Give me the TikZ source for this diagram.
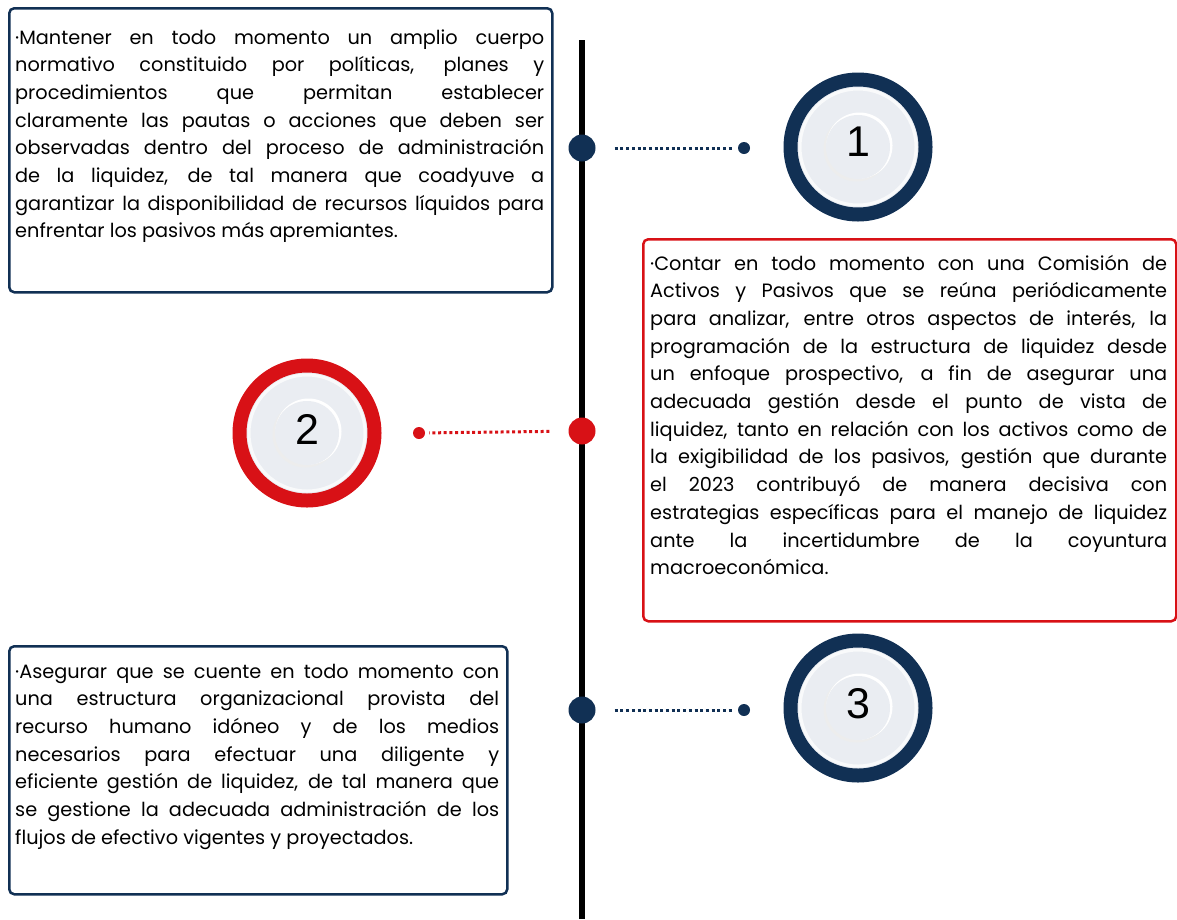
\documentclass[tikz,border=0pt]{standalone}
\usepackage{fontspec}
\usepackage{tikz}
\setmainfont{Poppins}
\newfontfamily\numfont{Liberation Sans}
\definecolor{navy}{RGB}{17,48,84}
\definecolor{redc}{RGB}{216,17,22}
\definecolor{disk}{RGB}{234,237,242}
\tolerance=10000

\begin{document}
\begin{tikzpicture}[x=1pt, y=-1pt,
    bigdot/.style={circle, inner sep=0pt, minimum size=27pt},
    tip/.style={circle, inner sep=0pt, minimum size=12pt},
    ring/.style={circle, inner sep=0pt, minimum size=135pt, line width=14pt, fill=disk},
    dots/.style={line width=3pt, dash pattern=on 3pt off 2.7pt, shorten <=19pt, shorten >=4pt},
    frame/.style={draw, rounded corners=5pt, line width=2.5pt, inner sep=0pt, anchor=north west},
    body/.style={anchor=base west, inner sep=0pt, align=justify, font=\fontsize{19.3}{27.7}\selectfont},
    num/.style={inner sep=0pt, font=\numfont\fontsize{43}{43}\selectfont}]
    \useasboundingbox (0,0) rectangle (1177,919);

    % timeline
    \coordinate (top) at (582,40);
    \coordinate (bottom) at (582,919);
    \draw[line width=6pt] (top) -- (bottom);

    % text boxes
    \node (b1) [frame, draw=navy, minimum width=543pt, minimum height=284pt] at (8,7) {};
    \node (b2) [frame, draw=redc, minimum width=533pt, minimum height=382pt] at (642,238) {};
    \node (b3) [frame, draw=navy, minimum width=498pt, minimum height=248pt] at (8,645) {};

    \node (t1) [body, text width=529pt] at (15,44) {%
        ·Mantener en todo momento un amplio cuerpo\linebreak
        normativo constituido por políticas, planes y\linebreak
        procedimientos que permitan establecer\linebreak
        claramente las pautas o acciones que deben ser\linebreak
        observadas dentro del proceso de administración\linebreak
        de la liquidez, de tal manera que coadyuve a\linebreak
        garantizar la disponibilidad de recursos líquidos para\linebreak
        enfrentar los pasivos más apremiantes.};
    \node (t2) [body, text width=517pt] at (650,270) {%
        ·Contar en todo momento con una Comisión de\linebreak
        Activos y Pasivos que se reúna periódicamente\linebreak
        para analizar, entre otros aspectos de interés, la\linebreak
        programación de la estructura de liquidez desde\linebreak
        un enfoque prospectivo, a fin de asegurar una\linebreak
        adecuada gestión desde el punto de vista de\linebreak
        liquidez, tanto en relación con los activos como de\linebreak
        la exigibilidad de los pasivos, gestión que durante\linebreak
        el 2023 contribuyó de manera decisiva con\linebreak
        estrategias específicas para el manejo de liquidez\linebreak
        ante la incertidumbre de la coyuntura\linebreak
        macroeconómica.};
    \node (t3) [body, text width=484pt] at (15,678) {%
        ·Asegurar que se cuente en todo momento con\linebreak
        una estructura organizacional provista del\linebreak
        recurso humano idóneo y de los medios\linebreak
        necesarios para efectuar una diligente y\linebreak
        eficiente gestión de liquidez, de tal manera que\linebreak
        se gestione la adecuada administración de los\linebreak
        flujos de efectivo vigentes y proyectados.};

    % rings
    \node (r1) [ring, draw=navy] at (858,147) {};
    \node (r2) [ring, draw=redc] at (307,433) {};
    \node (r3) [ring, draw=navy] at (858,708) {};
    \foreach \r in {r1, r2, r3} {
        \draw[white!70!disk, line width=3pt] (\r.center) circle (58pt);
        \fill[black!7] ([shift={(-1.5,1.5)}]\r.center) circle (33pt);
        \fill[white] ([shift={(1.5,-1.5)}]\r.center) circle (33pt);
        \fill[disk] (\r.center) circle (32pt);
    }
    \node (n1) [num] at ([yshift=5pt]r1.center) {1};
    \node (n2) [num] at ([yshift=4pt]r2.center) {2};
    \node (n3) [num] at ([yshift=4pt]r3.center) {3};

    % markers on the timeline
    \node (d1) [bigdot, fill=navy] at (582,148) {};
    \node (d2) [bigdot, fill=redc] at (582,431) {};
    \node (d3) [bigdot, fill=navy] at (582,710) {};
    \node (s1) [tip, fill=navy] at (744,148) {};
    \node (s2) [tip, fill=redc] at (419,433) {};
    \node (s3) [tip, fill=navy] at (744,710) {};

    \draw[dots, navy] (d1) -- (s1);
    \draw[dots, redc] (d2) -- (s2);
    \draw[dots, navy] (d3) -- (s3);
\end{tikzpicture}
\end{document}
